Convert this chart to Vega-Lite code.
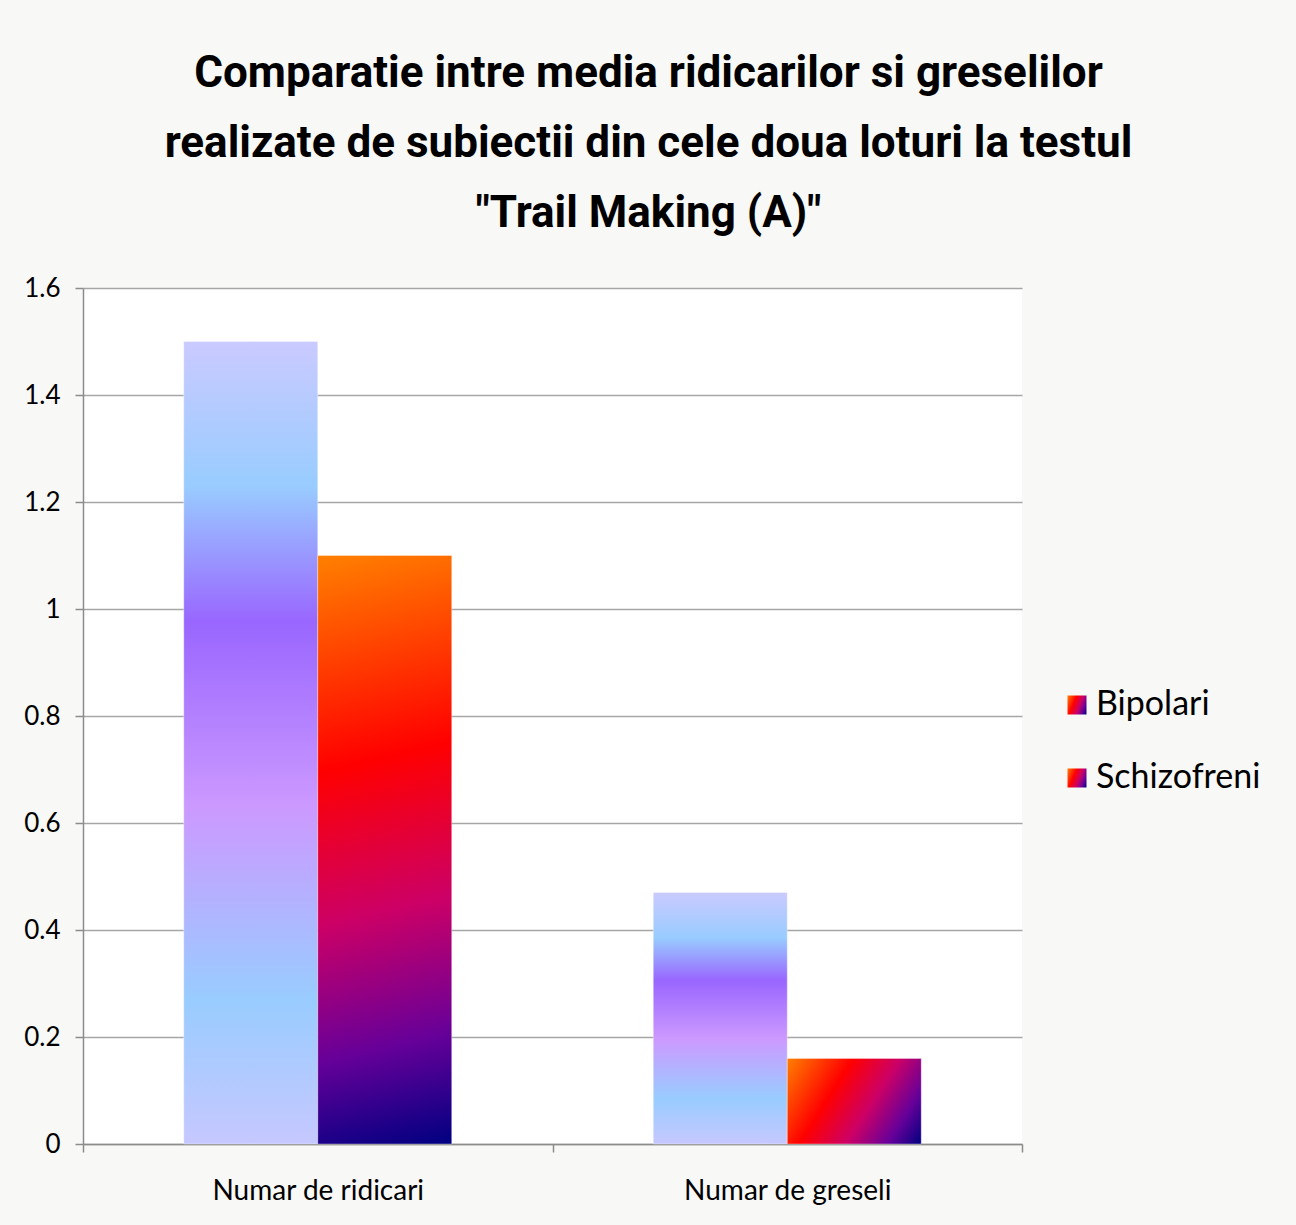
{
  "$schema": "https://vega.github.io/schema/vega-lite/v6.json",
  "autosize": "none",
  "width": 939,
  "height": 856,
  "padding": {"left": 83, "top": 288, "right": 274, "bottom": 81},
  "background": "#f8f8f6",
  "title": {
    "text": ["Comparatie intre media ridicarilor si greselilor", "realizate de subiectii din cele doua loturi la testul", "\"Trail Making (A)\""],
    "font": "Roboto",
    "fontSize": 44,
    "fontWeight": "bold",
    "lineHeight": 70,
    "anchor": "middle",
    "dx": 96,
    "offset": 39,
    "color": "#000000"
  },
  "data": {
    "values": [
      {"category": "Numar de ridicari", "lot": "Bipolari", "value": 1.5},
      {"category": "Numar de ridicari", "lot": "Schizofreni", "value": 1.1},
      {"category": "Numar de greseli", "lot": "Bipolari", "value": 0.47},
      {"category": "Numar de greseli", "lot": "Schizofreni", "value": 0.16}
    ]
  },
  "mark": {"type": "bar", "stroke": "#ffffff", "strokeOpacity": 0.35, "strokeWidth": 1},
  "encoding": {
    "x": {
      "field": "category",
      "type": "nominal",
      "sort": ["Numar de ridicari", "Numar de greseli"],
      "scale": {"paddingInner": 0, "paddingOuter": 0},
      "axis": {
        "title": null,
        "labelAngle": 0,
        "labelFont": "Lato",
        "labelFontSize": 28,
        "labelLimit": 0,
        "labelColor": "#000000",
        "labelPadding": 25,
        "tickSize": 8,
        "tickBand": "extent",
        "domainColor": "#8c8c8c",
        "domainWidth": 1.5,
        "tickColor": "#8c8c8c",
        "tickWidth": 1.5,
        "grid": false
      }
    },
    "xOffset": {"field": "lot", "type": "nominal", "sort": ["Bipolari", "Schizofreni"], "scale": {"paddingInner": 0, "paddingOuter": 0.752}},
    "y": {
      "field": "value",
      "type": "quantitative",
      "scale": {"domain": [0, 1.6], "nice": false},
      "axis": {
        "title": null,
        "values": [0, 0.2, 0.4, 0.6, 0.8, 1, 1.2, 1.4, 1.6],
        "format": "~g",
        "labelFont": "Lato",
        "labelFontSize": 26,
        "labelColor": "#000000",
        "labelPadding": 15,
        "tickSize": 8,
        "tickColor": "#8c8c8c",
        "tickWidth": 1.5,
        "domainColor": "#8c8c8c",
        "domainWidth": 1.5,
        "grid": true,
        "gridColor": "#a6a6a6",
        "gridWidth": 1.5
      }
    },
    "opacity": {
      "field": "lot",
      "type": "nominal",
      "scale": {"domain": ["Bipolari", "Schizofreni"], "range": [1, 1]},
      "legend": {
        "title": null,
        "orient": "none",
        "legendX": 977,
        "legendY": 400,
        "padding": 0,
        "labelFont": "Lato",
        "labelFontSize": 34,
        "labelLimit": 0,
        "labelColor": "#000000",
        "labelOffset": 2,
        "symbolType": "square",
        "symbolSize": 361,
        "symbolStrokeWidth": 0,
        "rowPadding": 39,
        "encode": {
          "symbols": {
            "fill": {
              "condition": {"test": "datum.value === 'Bipolari'", "value": {"gradient": "linear", "x1": 0, "y1": 0, "x2": 0, "y2": 1, "stops": [{"offset": 0, "color": "#c8c8ff"}, {"offset": 0.2, "color": "#99ccff"}, {"offset": 0.42, "color": "#9966ff"}, {"offset": 0.62, "color": "#cc99ff"}, {"offset": 0.84, "color": "#99ccff"}, {"offset": 1, "color": "#c8c8ff"}]}},
              "value": {"gradient": "linear", "x1": 0, "y1": 0, "x2": 1, "y2": 1, "stops": [{"offset": 0, "color": "#ff8000"}, {"offset": 0.3, "color": "#ff0000"}, {"offset": 0.58, "color": "#cc0066"}, {"offset": 0.8, "color": "#660099"}, {"offset": 1, "color": "#000080"}]}
            }
          }
        }
      }
    },
    "fill": {
      "condition": [
        {"test": "datum.lot === 'Bipolari'", "value": {"gradient": "linear", "x1": 0, "y1": 0, "x2": 0, "y2": 1, "stops": [{"offset": 0, "color": "#cacaff"}, {"offset": 0.18, "color": "#99ccff"}, {"offset": 0.35, "color": "#9966ff"}, {"offset": 0.58, "color": "#cc99ff"}, {"offset": 0.82, "color": "#99ccff"}, {"offset": 1, "color": "#c6c8ff"}]}},
        {"test": "datum.category === 'Numar de ridicari'", "value": {"gradient": "linear", "x1": 0, "y1": 0, "x2": 0.055, "y2": 1.049, "stops": [{"offset": 0, "color": "#ff8000"}, {"offset": 0.35, "color": "#ff0000"}, {"offset": 0.6, "color": "#cc0066"}, {"offset": 0.82, "color": "#660099"}, {"offset": 1, "color": "#000080"}]}}
      ],
      "value": {"gradient": "linear", "x1": 0, "y1": 0, "x2": 1.207, "y2": 0.486, "stops": [{"offset": 0, "color": "#ff8000"}, {"offset": 0.35, "color": "#ff0000"}, {"offset": 0.6, "color": "#cc0066"}, {"offset": 0.82, "color": "#660099"}, {"offset": 1, "color": "#000080"}]}
    }
  },
  "config": {
    "view": {"fill": "#ffffff", "stroke": null}
  }
}
